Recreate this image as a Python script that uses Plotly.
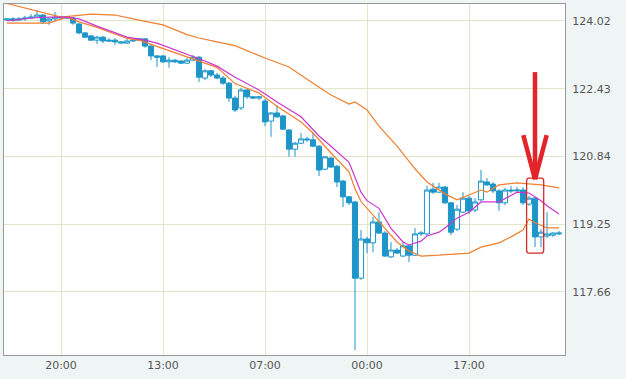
import plotly.graph_objects as go

# ---------------- data ----------------
idx = list(range(93))

open_ = [124.04,124.07,124.04,124.07,124.09,124.11,124.16,124.02,124.07,124.09,
124.11,124.09,123.95,123.74,123.67,123.57,123.64,123.57,123.57,123.50,
123.50,123.55,123.57,123.60,123.43,123.20,123.20,123.06,123.10,123.08,
123.03,123.10,123.17,122.68,122.85,122.75,122.68,122.56,122.21,121.98,
122.40,122.24,122.21,122.14,121.67,121.86,121.79,121.46,121.01,121.15,
121.25,121.23,121.08,120.54,120.80,120.61,120.26,119.89,119.77,117.98,
118.90,118.81,119.30,119.04,118.48,118.64,118.50,118.74,118.52,119.02,
119.02,120.07,120.00,120.12,119.75,119.13,119.53,119.86,119.58,119.82,
120.24,120.19,120.03,119.75,120.05,120.03,120.05,119.72,119.86,118.95,
118.97,118.99,119.02]

high = [124.09,124.11,124.11,124.14,124.18,124.28,124.18,124.09,124.23,124.14,
124.14,124.11,123.97,123.76,123.69,123.67,123.67,123.62,123.62,123.55,
123.60,123.60,123.62,123.62,123.46,123.22,123.22,123.17,123.13,123.10,
123.15,123.22,123.20,122.89,122.87,122.80,122.73,122.59,122.26,122.45,
122.42,122.26,122.26,122.19,121.88,122.05,121.81,121.48,121.18,121.39,
121.30,121.39,121.11,120.85,120.83,120.64,120.29,119.91,119.79,119.11,
118.95,119.42,119.53,119.09,118.83,118.69,118.83,118.78,119.16,119.09,
120.15,120.22,120.22,120.15,119.77,119.70,120.00,119.91,119.86,120.52,
120.33,120.24,120.07,120.10,120.15,120.12,120.12,119.91,119.89,119.13,
119.53,119.06,119.09]

low = [124.02,124.00,124.02,124.02,124.07,124.09,123.95,123.93,124.02,124.07,
124.07,123.93,123.71,123.62,123.55,123.48,123.50,123.53,123.46,123.48,
123.48,123.53,123.55,123.39,123.10,122.94,123.03,122.92,123.03,123.01,
123.01,123.08,122.59,122.63,122.70,122.66,122.52,122.12,121.88,121.93,
122.19,122.19,122.16,121.55,121.30,121.74,121.46,120.83,120.83,121.13,
121.18,121.06,120.38,120.52,120.57,120.12,119.65,119.70,116.29,117.94,
118.57,118.59,119.02,118.48,118.45,118.55,118.48,118.36,118.50,118.97,
118.97,119.96,119.98,119.72,118.99,119.09,119.51,119.49,119.53,119.79,
120.15,119.98,119.56,119.70,119.98,119.98,119.70,119.68,118.71,118.71,
118.92,118.95,118.99]

close = [124.07,124.04,124.07,124.09,124.11,124.16,124.00,124.07,124.11,124.11,
124.09,123.97,123.74,123.64,123.57,123.64,123.55,123.55,123.53,123.53,
123.55,123.57,123.60,123.43,123.20,123.17,123.06,123.10,123.06,123.03,
123.10,123.17,122.70,122.85,122.75,122.68,122.56,122.21,121.93,122.40,
122.24,122.21,122.24,121.65,121.86,121.77,121.48,121.01,121.15,121.25,
121.23,121.08,120.52,120.83,120.59,120.24,119.89,119.75,117.98,118.90,
118.81,119.30,119.04,118.50,118.64,118.57,118.74,118.52,119.02,119.04,
120.05,120.00,120.12,119.75,119.06,119.60,119.86,119.56,119.77,120.26,
120.17,120.03,119.75,120.05,120.03,120.05,119.75,119.86,118.95,119.06,
119.02,119.04,119.04]

# magenta middle line
ma_x = [0,4,7,10,12,15,20,23,25,30,33,35,38,42,43,45,49,51,52,54,57,58,59,60,62,64,66,67,69,70,72,73,75,77,79,82,83,85,87,89,90,92]
ma_y = [124.02,124.09,124.11,124.11,124.07,123.90,123.64,123.57,123.50,123.24,123.08,122.96,122.70,122.40,122.30,122.12,121.77,121.46,121.32,121.08,120.70,120.35,120.00,119.80,119.62,119.15,118.83,118.76,118.85,118.97,119.06,119.16,119.39,119.53,119.77,119.77,119.85,120.00,119.98,119.80,119.68,119.49]

# orange line hugging price
ob_x = [0,7,10,12,15,20,22,24,30,32,35,38,42,45,49,51,52,54,57,58,59,60,61,63,65,67,69,72,77,79,80,82,84,86,87,88,90,92]
ob_y = [123.97,123.97,124.11,124.00,123.87,123.61,123.57,123.47,123.17,123.08,122.93,122.55,122.33,122.02,121.65,121.39,121.23,120.92,120.48,120.08,119.78,119.62,119.46,119.13,118.83,118.62,118.50,118.52,118.57,118.71,118.74,118.81,118.95,119.11,119.37,119.28,119.16,119.16]

# orange far line
oa_x = [0,8,9,14,18,22,26,30,32,35,38,43,47,51,54,57,58,60,62,65,68,70,73,75,79,80,82,85,89,92]
oa_y = [124.43,124.16,124.11,124.18,124.16,124.04,123.93,123.70,123.62,123.53,123.44,123.15,122.94,122.56,122.28,122.07,122.12,121.93,121.55,121.08,120.55,120.24,119.96,119.82,120.05,120.00,120.17,120.22,120.17,120.10]

tick_pos = [9, 26, 43, 60, 77]
tick_text = ["20:00", "13:00", "07:00", "00:00", "17:00"]
y_ticks = [117.66, 119.25, 120.84, 122.43, 124.02]

# highlighted candle
hl_x = 88

# ---------------- figure ----------------
BLUE = "#1e95c8"
ORANGE = "#f07f2e"
MAGENTA = "#cc35cc"
RED = "#e3242b"

fig = go.Figure()
fig.add_trace(go.Candlestick(
    x=idx, open=open_, high=high, low=low, close=close,
    increasing=dict(line=dict(color=BLUE, width=1), fillcolor="white"),
    decreasing=dict(line=dict(color=BLUE, width=1), fillcolor=BLUE),
    whiskerwidth=0, showlegend=False, hoverinfo="skip",
))
fig.add_trace(go.Scatter(x=oa_x, y=oa_y, mode="lines",
                         line=dict(color=ORANGE, width=1.2), showlegend=False, hoverinfo="skip"))
fig.add_trace(go.Scatter(x=ob_x, y=ob_y, mode="lines",
                         line=dict(color=ORANGE, width=1.2), showlegend=False, hoverinfo="skip"))
fig.add_trace(go.Scatter(x=ma_x, y=ma_y, mode="lines",
                         line=dict(color=MAGENTA, width=1.2), showlegend=False, hoverinfo="skip"))

# red rounded box around the highlighted candle
x0, x1 = hl_x - 1.4, hl_x + 1.45
y0, y1 = 118.57, 120.33
r = 0.35
ry = 0.07
box_path = (f"M {x0+r},{y1} L {x1-r},{y1} Q {x1},{y1} {x1},{y1-ry} "
            f"L {x1},{y0+ry} Q {x1},{y0} {x1-r},{y0} L {x0+r},{y0} "
            f"Q {x0},{y0} {x0},{y0+ry} L {x0},{y1-ry} Q {x0},{y1} {x0+r},{y1} Z")
fig.add_shape(type="path", path=box_path, xref="x", yref="y",
              line=dict(color="#d42a2a", width=1.3))
# red arrow
fig.add_shape(type="line", xref="x", yref="y", x0=hl_x, x1=hl_x, y0=122.82, y1=120.36,
              line=dict(color=RED, width=4.5))
fig.add_shape(type="line", xref="x", yref="y", x0=hl_x - 1.95, x1=hl_x, y0=121.34, y1=120.30,
              line=dict(color=RED, width=4.5))
fig.add_shape(type="line", xref="x", yref="y", x0=hl_x + 1.95, x1=hl_x, y0=121.34, y1=120.30,
              line=dict(color=RED, width=4.5))

GRID = "#e3e5ca"
fig.update_layout(
    width=626, height=379,
    margin=dict(l=4, r=61, t=4, b=24),
    paper_bgcolor="#eff5f5",
    plot_bgcolor="white",
    font=dict(family="DejaVu Sans", size=11, color="#555555"),
    boxgap=0.1, boxgroupgap=0.05,
    hovermode=False,
    xaxis=dict(range=[-0.5, 93.0], tickvals=tick_pos, ticktext=tick_text,
               showgrid=True, gridcolor=GRID, gridwidth=1,
               showline=True, linecolor="#999999", linewidth=1, mirror=True,
               zeroline=False, ticks="", rangeslider=dict(visible=False),
               fixedrange=True),
    yaxis=dict(range=[116.176, 124.419], side="right", tickvals=y_ticks,
               ticktext=[f"{v:.2f}" for v in y_ticks],
               showgrid=True, gridcolor=GRID, gridwidth=1,
               showline=True, linecolor="#999999", linewidth=1, mirror=True,
               zeroline=False, ticks="outside", ticklen=4, tickcolor="rgba(0,0,0,0)",
               fixedrange=True),
)

fig.write_html("out.html", config={"displayModeBar": False, "staticPlot": True},
               post_script="document.body.style.margin='0';document.body.style.background='#eff5f5';")
